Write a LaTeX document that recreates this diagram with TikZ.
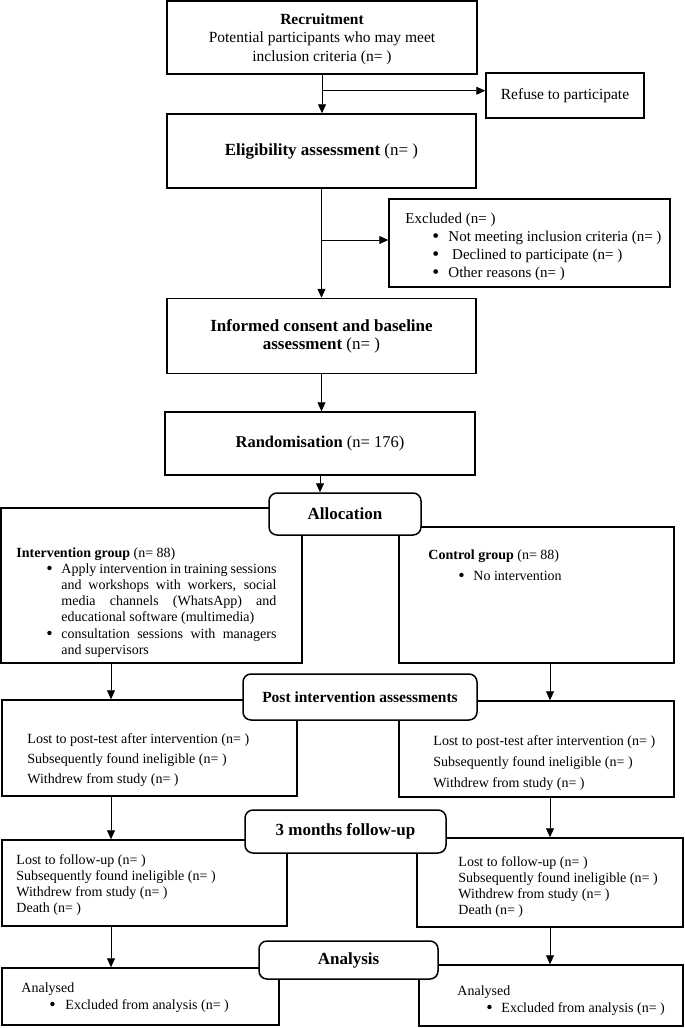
\documentclass[tikz,border=0pt]{standalone}
\usepackage{fontspec}
\setmainfont{Liberation Serif}
\usetikzlibrary{arrows.meta}
\setlength{\parindent}{0pt}
\newcommand{\flowbullet}{\raisebox{-1pt}{\scalebox{1.3}{\textbullet}}}

\begin{document}
\begin{tikzpicture}
        [x=1pt, y=-1pt,
        every node/.style={inner sep=0, font=\fontsize{14}{16.2}\selectfont},
        box/.style={draw, line width=1.5pt, align=center},
        stage/.style={box, rounded corners=8pt, fill=white, font=\fontsize{17}{19}\selectfont\bfseries},
        txt/.style={anchor=north west, align=left},
        arr/.style={line width=0.8pt, -{Triangle[length=9pt, width=8pt]}}]

        \useasboundingbox (0,0) rectangle (685,1028);
        \coordinate (colL) at (111,0);
        \coordinate (colR) at (550,0);

        % enrolment
        \node[box, minimum width=310pt, minimum height=73pt, font=\fontsize{15.5}{18.5}\selectfont] (recruit) at (322,37.5) {\rule{0pt}{14pt}\textbf{Recruitment}\\Potential participants who may meet\\inclusion criteria (n= )};
        \node[box, minimum width=158pt, minimum height=45pt, font=\fontsize{15.5}{18.5}\selectfont] (refuse) at (565,95.5) {Refuse to participate};
        \node[box, minimum width=309pt, minimum height=74pt, font=\fontsize{17}{19}\selectfont] (elig) at (321.5,151) {\textbf{Eligibility assessment} (n= )};
        \node[box, minimum width=281pt, minimum height=88pt] (excl) at (529.5,243) {};
        \node[txt, font=\fontsize{15}{18}\selectfont] (exclT) at ([shift={(17pt,-15pt)}]excl.north west) {Excluded (n= )\\
          \hspace*{27pt}\makebox[16pt][l]{\flowbullet}Not meeting inclusion criteria (n= )\\
          \hspace*{27pt}\makebox[16pt][l]{\flowbullet} Declined to participate (n= )\\
          \hspace*{27pt}\makebox[16pt][l]{\flowbullet}Other reasons (n= )};
        \node[box, minimum width=309pt, minimum height=75pt, font=\fontsize{17}{18}\selectfont] (informed) at (321.5,336) {\textbf{Informed consent and baseline}\\\textbf{assessment} (n= )};
        \node[box, minimum width=310pt, minimum height=63pt, font=\fontsize{16.5}{19}\selectfont] (random) at (320,443.5) {\textbf{Randomisation} (n= 176)};

        % allocation
        \node[box, minimum width=301pt, minimum height=155pt] (interv) at (151.5,585.5) {};
        \node[box, minimum width=275pt, minimum height=136pt] (control) at (536.5,595) {};
        \node[txt, text width=260pt, align=justify] (intervT) at ([shift={(16pt,-40pt)}]interv.north west) {\hyphenpenalty=10000 \exhyphenpenalty=10000
          \textbf{Intervention group} (n= 88)\par
          \hangindent=45pt\hangafter=1 \hspace*{30pt}\makebox[15pt][l]{\flowbullet}Apply intervention in training sessions and workshops with workers, social media channels (WhatsApp) and educational software (multimedia)\par
          \hangindent=45pt\hangafter=1 \hspace*{30pt}\makebox[15pt][l]{\flowbullet}consultation sessions with managers and supervisors\par};
        \node[txt] (controlT) at ([shift={(30pt,-23pt)}]control.north west) {\textbf{Control group} (n= 88)\\[5pt]
          \hspace*{30pt}\makebox[15pt][l]{\flowbullet}No intervention};
        \node[stage, minimum width=152pt, minimum height=42pt] (alloc) at (345,514) {Allocation};

        % post intervention
        \node[box, minimum width=295pt, minimum height=96pt] (lostL) at (149.5,748) {};
        \node[box, minimum width=275pt, minimum height=96pt] (lostR) at (536.5,749) {};
        \node[txt, font=\fontsize{14}{20}\selectfont] (lostLT) at ([shift={(26pt,-34pt)}]lostL.north west) {Lost to post-test after intervention (n= )\\Subsequently found ineligible (n= )\\Withdrew from study (n= )};
        \node[txt, font=\fontsize{14}{21}\selectfont] (lostRT) at ([shift={(35pt,-35pt)}]lostR.north west) {Lost to post-test after intervention (n= )\\Subsequently found ineligible (n= )\\Withdrew from study (n= )};
        \node[stage, minimum width=234pt, minimum height=46pt, font=\fontsize{15.5}{18}\selectfont\bfseries] (post) at (360,697) {Post intervention assessments};

        % follow-up
        \node[box, minimum width=285pt, minimum height=86pt] (fuL) at (144.5,883) {};
        \node[box, minimum width=266pt, minimum height=89pt] (fuR) at (550,882.5) {};
        \node[txt] (fuLT) at ([shift={(15pt,-15pt)}]fuL.north west) {Lost to follow-up (n= )\\Subsequently found ineligible (n= )\\Withdrew from study (n= )\\Death (n= )};
        \node[txt] (fuRT) at ([shift={(42pt,-19pt)}]fuR.north west) {Lost to follow-up (n= )\\Subsequently found ineligible (n= )\\Withdrew from study (n= )\\Death (n= )};
        \node[stage, minimum width=201pt, minimum height=43pt] (follow) at (345.5,831.5) {3 months follow-up};

        % analysis
        \node[box, minimum width=277pt, minimum height=57pt] (anL) at (140.5,996.5) {};
        \node[box, minimum width=264pt, minimum height=61pt] (anR) at (551,995.5) {};
        \node[txt, font=\fontsize{14}{17}\selectfont] (anLT) at ([shift={(20pt,-15pt)}]anL.north west) {Analysed\\
          \hspace*{28pt}\makebox[16pt][l]{\flowbullet}Excluded from analysis (n= )};
        \node[txt, font=\fontsize{14}{17}\selectfont] (anRT) at ([shift={(39pt,-21pt)}]anR.north west) {Analysed\\
          \hspace*{29pt}\makebox[15pt][l]{\flowbullet}Excluded from analysis (n= )};
        \node[stage, minimum width=179pt, minimum height=38pt] (analysis) at (348.5,960) {Analysis};

        \coordinate (rfb) at ([yshift=-16pt]recruit.south);
        \coordinate (exb) at ([yshift=3pt]excl.west);

        \draw[arr] (recruit.south) -- (recruit.south |- elig.north);
        \draw[arr] (rfb) -- (rfb -| refuse.west);
        \draw[arr] (elig.south) -- (elig.south |- informed.north);
        \draw[arr] (elig.south |- exb) -- (exb);
        \draw[arr] (informed.south) -- (informed.south |- random.north);
        \draw[arr] (random.south) -- (random.south |- alloc.north);
        \draw[arr] (interv.south -| colL) -- (lostL.north -| colL);
        \draw[arr] (control.south -| colR) -- (lostR.north -| colR);
        \draw[arr] (lostL.south -| colL) -- (fuL.north -| colL);
        \draw[arr] (lostR.south -| colR) -- (fuR.north -| colR);
        \draw[arr] (fuL.south -| colL) -- (anL.north -| colL);
        \draw[arr] (fuR.south -| colR) -- (anR.north -| colR);

      \end{tikzpicture}
\end{document}
